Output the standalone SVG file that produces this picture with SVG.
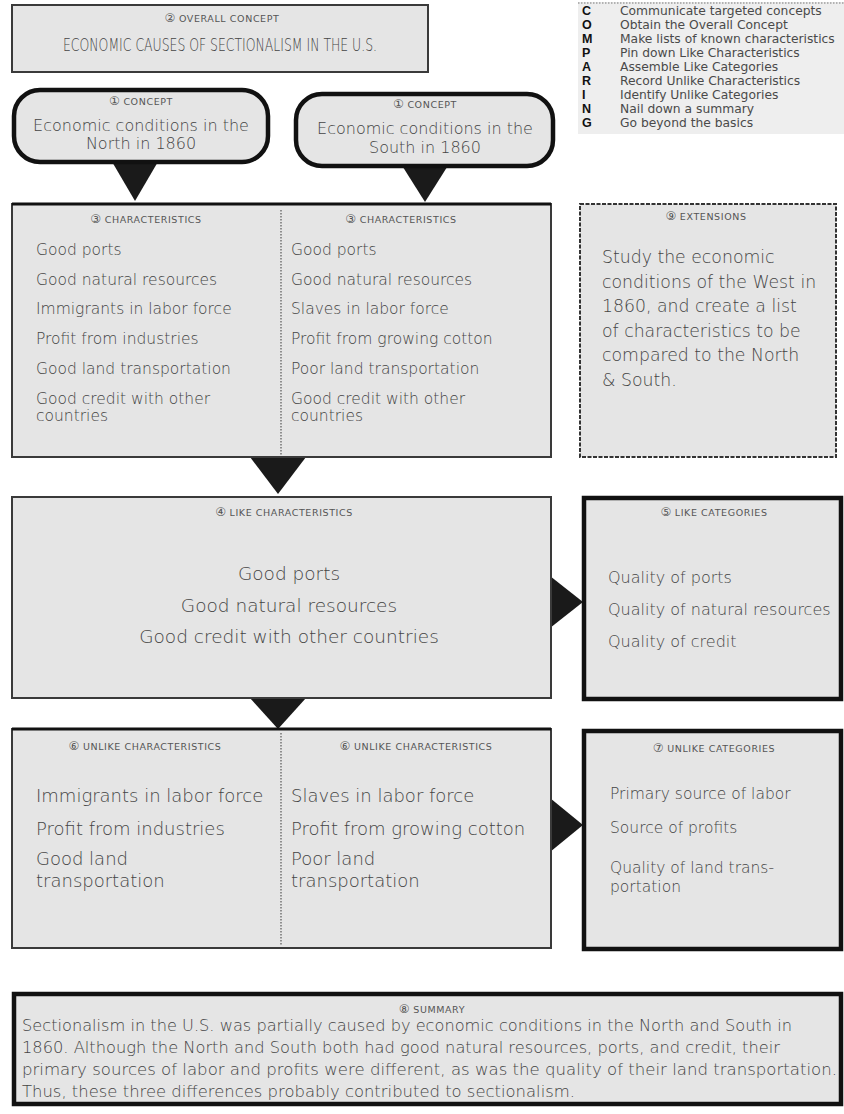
<svg xmlns="http://www.w3.org/2000/svg" width="844" height="1114" viewBox="0 0 844 1114">
  <style>
    .box { fill:#e5e5e5; stroke:#3a3a3a; stroke-width:2; }
    .heavy { fill:#e5e5e5; stroke:#111; stroke-width:4.5; }
    .dash { fill:#e5e5e5; stroke:#333; stroke-width:2; stroke-dasharray:4 1.5; }
    .bubble { fill:#e5e5e5; stroke:#111; stroke-width:4.5; }
    .div { stroke:#555; stroke-width:1.2; stroke-dasharray:1.5 1.5; }
    .hd { font-family:"DejaVu Sans", sans-serif; font-size:9.5px; letter-spacing:0.6px; fill:#555; text-anchor:middle; }
    .hd tspan.n { font-size:12px; letter-spacing:0; }
    .t { font-family:"DejaVu Sans", sans-serif; font-weight:200; fill:#444; }
    .lg { font-family:"DejaVu Sans", sans-serif; font-size:12.3px; fill:#4a4a4a; }
    .lk { font-family:"Liberation Sans", Arial, sans-serif; font-size:12.5px; font-weight:bold; fill:#111; }
    .arrow { fill:#1a1a1a; }
  </style>

  <!-- mnemonic legend -->
  <g id="legend">
    <rect x="578" y="2" width="266" height="132" fill="#eeeeee"/>
    <line x1="578" y1="3" x2="844" y2="3" stroke="#777" stroke-width="1" stroke-dasharray="1.5 1.5"/>
    <text class="lk" x="582" y="15">C</text><text class="lg" x="620" y="15">Communicate targeted concepts</text>
    <text class="lk" x="582" y="29">O</text><text class="lg" x="620" y="29">Obtain the Overall Concept</text>
    <text class="lk" x="582" y="43">M</text><text class="lg" x="620" y="43">Make lists of known characteristics</text>
    <text class="lk" x="582" y="57">P</text><text class="lg" x="620" y="57">Pin down Like Characteristics</text>
    <text class="lk" x="582" y="71">A</text><text class="lg" x="620" y="71">Assemble Like Categories</text>
    <text class="lk" x="582" y="85">R</text><text class="lg" x="620" y="85">Record Unlike Characteristics</text>
    <text class="lk" x="582" y="99">I</text><text class="lg" x="620" y="99">Identify Unlike Categories</text>
    <text class="lk" x="582" y="113">N</text><text class="lg" x="620" y="113">Nail down a summary</text>
    <text class="lk" x="582" y="127">G</text><text class="lg" x="620" y="127">Go beyond the basics</text>
  </g>

  <!-- connectors: solid pointer triangles -->
  <g id="connectors">
    <polygon class="arrow" points="111,160 159,160 135,201"/>
    <polygon class="arrow" points="401,164 449,164 425,202"/>
    <polygon class="arrow" points="250,457 306,457 278,494"/>
    <polygon class="arrow" points="250,698 306,698 278,729"/>
    <polygon class="arrow" points="550,576 550,628 583,602"/>
    <polygon class="arrow" points="550,798 550,852 583,825"/>
  </g>

  <g id="overall-concept">
    <rect class="box" x="12" y="5" width="416" height="67"/>
    <text class="hd" x="222" y="22"><tspan class="n">②</tspan>  OVERALL CONCEPT</text>
    <text class="t" x="63" y="51" font-size="18.5" textLength="314" lengthAdjust="spacingAndGlyphs">ECONOMIC CAUSES OF SECTIONALISM IN THE U.S.</text>
  </g>

  <g id="concept-north">
    <rect class="bubble" x="14" y="90" width="254" height="72" rx="26"/>
    <text class="hd" x="141" y="105"><tspan class="n">①</tspan>  CONCEPT</text>
    <text class="t" x="141" y="131" font-size="16" text-anchor="middle">Economic conditions in the</text>
    <text class="t" x="141" y="149" font-size="16" text-anchor="middle">North in 1860</text>
  </g>

  <g id="concept-south">
    <rect class="bubble" x="296" y="94" width="257" height="72" rx="26"/>
    <text class="hd" x="425" y="108"><tspan class="n">①</tspan>  CONCEPT</text>
    <text class="t" x="425" y="134" font-size="16" text-anchor="middle">Economic conditions in the</text>
    <text class="t" x="425" y="153" font-size="16" text-anchor="middle">South in 1860</text>
  </g>

  <g id="characteristics">
    <rect class="box" x="12" y="204" width="539" height="253"/>
    <line x1="12" y1="204" x2="551" y2="204" stroke="#111" stroke-width="3"/>
    <line class="div" x1="281" y1="210" x2="281" y2="455"/>
    <text class="hd" x="146" y="223"><tspan class="n">③</tspan>  CHARACTERISTICS</text>
    <text class="hd" x="401" y="223"><tspan class="n">③</tspan>  CHARACTERISTICS</text>
    <g class="t" font-size="15.5">
      <text x="36" y="255">Good ports</text>
      <text x="36" y="285">Good natural resources</text>
      <text x="36" y="314">Immigrants in labor force</text>
      <text x="36" y="344">Profit from industries</text>
      <text x="36" y="374">Good land transportation</text>
      <text x="36" y="404">Good credit with other</text>
      <text x="36" y="421">countries</text>
      <text x="291" y="255">Good ports</text>
      <text x="291" y="285">Good natural resources</text>
      <text x="291" y="314">Slaves in labor force</text>
      <text x="291" y="344">Profit from growing cotton</text>
      <text x="291" y="374">Poor land transportation</text>
      <text x="291" y="404">Good credit with other</text>
      <text x="291" y="421">countries</text>
    </g>
  </g>

  <g id="extensions">
    <rect class="dash" x="580" y="204" width="256" height="253"/>
    <text class="hd" x="706" y="220"><tspan class="n">⑨</tspan>  EXTENSIONS</text>
    <g class="t" font-size="17.3">
      <text x="602" y="263">Study the economic</text>
      <text x="602" y="288">conditions of the West in</text>
      <text x="602" y="312">1860, and create a list</text>
      <text x="602" y="337">of characteristics to be</text>
      <text x="602" y="361">compared to the North</text>
      <text x="602" y="386">&amp; South.</text>
    </g>
  </g>

  <g id="like-characteristics">
    <rect class="box" x="12" y="497" width="539" height="201"/>
    <text class="hd" x="284" y="516"><tspan class="n">④</tspan>  LIKE CHARACTERISTICS</text>
    <g class="t" font-size="18.5" text-anchor="middle">
      <text x="289" y="580">Good ports</text>
      <text x="289" y="612">Good natural resources</text>
      <text x="289" y="643">Good credit with other countries</text>
    </g>
  </g>

  <g id="like-categories">
    <rect class="heavy" x="584" y="498" width="257" height="201"/>
    <text class="hd" x="714" y="516"><tspan class="n">⑤</tspan>  LIKE CATEGORIES</text>
    <g class="t" font-size="16">
      <text x="608" y="583">Quality of ports</text>
      <text x="608" y="615">Quality of natural resources</text>
      <text x="608" y="647">Quality of credit</text>
    </g>
  </g>

  <g id="unlike-characteristics">
    <rect class="box" x="12" y="729" width="539" height="219"/>
    <line x1="12" y1="729" x2="551" y2="729" stroke="#111" stroke-width="3"/>
    <line class="div" x1="281" y1="733" x2="281" y2="946"/>
    <text class="hd" x="145" y="750"><tspan class="n">⑥</tspan> UNLIKE CHARACTERISTICS</text>
    <text class="hd" x="416" y="750"><tspan class="n">⑥</tspan>  UNLIKE CHARACTERISTICS</text>
    <g class="t" font-size="18">
      <text x="36" y="802">Immigrants in labor force</text>
      <text x="36" y="835">Profit from industries</text>
      <text x="36" y="865">Good land</text>
      <text x="36" y="887">transportation</text>
      <text x="291" y="802">Slaves in labor force</text>
      <text x="291" y="835">Profit from growing cotton</text>
      <text x="291" y="865">Poor land</text>
      <text x="291" y="887">transportation</text>
    </g>
  </g>

  <g id="unlike-categories">
    <rect class="heavy" x="584" y="731" width="257" height="218"/>
    <text class="hd" x="714" y="752"><tspan class="n">⑦</tspan>  UNLIKE CATEGORIES</text>
    <g class="t" font-size="15.5">
      <text x="610" y="799">Primary source of labor</text>
      <text x="610" y="833">Source of profits</text>
      <text x="610" y="873">Quality of land trans-</text>
      <text x="610" y="892">portation</text>
    </g>
  </g>

  <g id="summary">
    <rect class="heavy" x="14" y="994" width="827" height="110"/>
    <text class="hd" x="432" y="1013"><tspan class="n">⑧</tspan>  SUMMARY</text>
    <g class="t" font-size="15.5" fill="#3a3a3a">
      <text x="22" y="1031" textLength="770" lengthAdjust="spacingAndGlyphs">Sectionalism in the U.S. was partially caused by economic conditions in the North and South in</text>
      <text x="22" y="1053" textLength="758" lengthAdjust="spacingAndGlyphs">1860. Although the North and South both had good natural resources, ports, and credit, their</text>
      <text x="22" y="1075" textLength="815" lengthAdjust="spacingAndGlyphs">primary sources of labor and profits were different, as was the quality of their land transportation.</text>
      <text x="22" y="1097" textLength="553" lengthAdjust="spacingAndGlyphs">Thus, these three differences probably contributed to sectionalism.</text>
    </g>
  </g>
</svg>
